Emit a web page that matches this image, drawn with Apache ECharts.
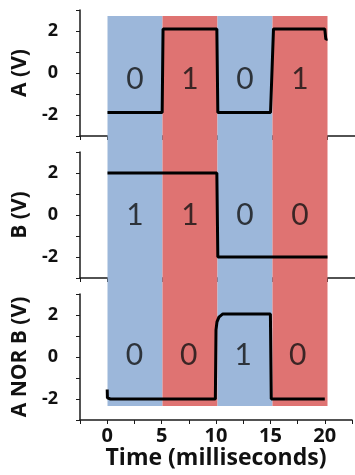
<!DOCTYPE html>
<html>
<head>
<meta charset="utf-8">
<script src="https://cdn.jsdelivr.net/npm/echarts@6/dist/echarts.min.js"></script>
<style>html,body{margin:0;padding:0;background:#fff}#c{width:355px;height:475px}</style>
</head>
<body>
<div id="c"></div>
<script>
// Shaded bit windows
var shadeStart = [0, 5, 10, 15];
var shadeEnd = [5, 10, 15, 20];
var shadeKind = ['0', '1', '0', '1'];
// Bit labels
var bitCenters = [2.5, 7.5, 12.5, 17.5];
var bitsA = ['0', '1', '0', '1'];
var bitsB = ['1', '1', '0', '0'];
var bitsNOR = ['0', '0', '1', '0'];
// Signals (time in ms, voltage in V)
var timeA = [0, 4.97, 5.05, 9.94, 10.03, 14.82, 15.09, 19.75, 19.85, 20];
var voltA = [-1.88, -1.88, 2.1, 2.1, -1.88, -1.88, 2.1, 2.1, 1.6, 1.62];
var timeB = [0, 9.94, 10.03, 20];
var voltB = [2.0, 2.0, -2.0, -2.0];
var timeNOR = [0, 0.02, 0.3, 9.94, 10.0, 10.09, 10.27, 10.63, 15.0, 15.08, 20];
var voltNOR = [-1.55, -1.95, -2.0, -2.0, 1.29, 1.67, 1.9, 2.05, 2.05, -2.0, -2.0];
// Axis labels
var yNames = ['A (V)', 'B (V)', 'A NOR B (V)'];
var xName = 'Time (milliseconds)';
var yTickLabels = [-2, 0, 2];
var xTickLabels = [0, 5, 10, 15, 20];

var BLUE = '#9cb7da', RED = '#df7372';
var FONT = '"Open Sans", Lato, sans-serif';
var DFONT = 'Lato, "Open Sans", sans-serif';
var tops = [10, 152, 294];
var H = 126, L = 80, W = 278;

function zip(t, v) { return t.map(function (x, i) { return [x, v[i]]; }); }

var grids = [], xAxes = [], yAxes = [], series = [];
var sig = [zip(timeA, voltA), zip(timeB, voltB), zip(timeNOR, voltNOR)];
var bits = [bitsA, bitsB, bitsNOR];
var bitY = [-0.3, 0, 0.1];
for (var i = 0; i < 3; i++) {
  grids.push({ left: L, width: W, top: tops[i], height: H });
  var last = i === 2;
  xAxes.push({
    type: 'value', gridIndex: i, min: -2.5, max: 22.5, interval: 2.5,
    axisLine: { onZero: false, lineStyle: { color: '#1a1a1a', width: 1.5 } },
    axisTick: { length: 4, lineStyle: { color: '#1a1a1a', width: 1 } },
    splitLine: { show: false },
    axisLabel: {
      show: last, margin: 6, color: '#111', fontFamily: FONT, fontWeight: 'bold', fontSize: 20,
      formatter: function (v) { return xTickLabels.indexOf(v) >= 0 ? String(v) : ''; }
    },
    name: last ? xName : '', nameLocation: 'middle', nameGap: 25,
    nameTextStyle: { color: '#111', fontFamily: FONT, fontSize: 23, fontWeight: 'bold' }
  });
  yAxes.push({
    type: 'value', gridIndex: i, min: -3, max: 3, interval: 1,
    axisLine: { show: true, onZero: false, lineStyle: { color: '#1a1a1a', width: 1.5 } },
    axisTick: { show: true, length: 4, lineStyle: { color: '#1a1a1a', width: 1 } },
    splitLine: { show: false },
    axisLabel: {
      margin: 22, color: '#111', fontFamily: FONT, fontWeight: 'bold', fontSize: 18,
      formatter: function (v) { return yTickLabels.indexOf(v) >= 0 ? String(v) : ''; }
    },
    name: yNames[i], nameLocation: 'middle', nameGap: 49,
    nameTextStyle: { color: '#111', fontFamily: FONT, fontSize: 21, fontWeight: 'bold' }
  });
  series.push({
    type: 'line', xAxisIndex: i, yAxisIndex: i, data: sig[i], showSymbol: false,
    lineStyle: { color: '#000', width: 3 }, z: 3, silent: true, animation: false
  });
  series.push({
    type: 'scatter', xAxisIndex: i, yAxisIndex: i, symbolSize: 0, silent: true, animation: false,
    data: bitCenters.map(function (x, k) { return [x, bitY[i], bits[i][k]]; }),
    label: {
      show: true, position: 'inside', color: '#111', fontFamily: DFONT, fontSize: 30,
      formatter: function (p) { return p.data[2]; }
    }, z: 2
  });
}
// full-height shading grid
grids.push({ left: L, width: W, top: 16, height: 390 });
xAxes.push({ type: 'value', gridIndex: 3, min: -2.5, max: 22.5, show: false });
yAxes.push({ type: 'value', gridIndex: 3, min: 0, max: 1, show: false });
series.push({
  type: 'line', xAxisIndex: 3, yAxisIndex: 3, data: [], silent: true, z: -5, animation: false,
  markArea: {
    silent: true,
    data: shadeStart.map(function (s, k) {
      return [{ xAxis: s, itemStyle: { color: shadeKind[k] === '0' ? BLUE : RED, opacity: 1 } }, { xAxis: shadeEnd[k] }];
    })
  }
});

var chart = echarts.init(document.getElementById('c'));
chart.setOption({ animation: false, grid: grids, xAxis: xAxes, yAxis: yAxes, series: series });
</script>
</body>
</html>
